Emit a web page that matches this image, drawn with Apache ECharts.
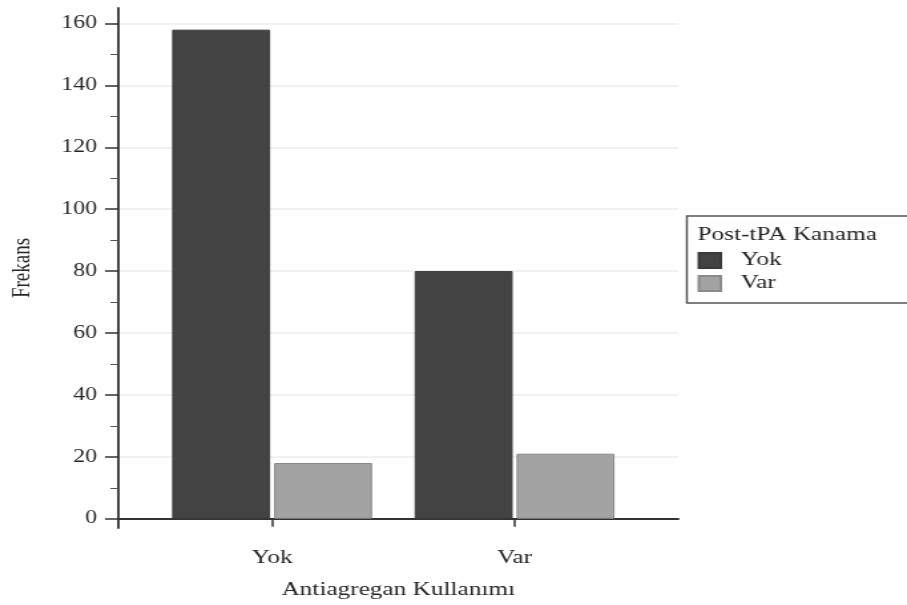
<!DOCTYPE html>
<html>
<head>
<meta charset="utf-8">
<script src="https://cdn.jsdelivr.net/npm/echarts@6/dist/echarts.min.js"></script>
<style>
  html, body { margin: 0; padding: 0; background: #fff; overflow: hidden; }
  #wrap { width: 907px; height: 605px; overflow: hidden; }
  /* the chart is laid out narrow and widened horizontally */
  #chart { width: 682px; height: 605px; transform: scaleX(1.3299); transform-origin: 0 0; }
</style>
</head>
<body>
<div id="wrap"><div id="chart"></div></div>
<script>
// Antiagregan use vs. post-tPA bleeding (counts)
const categories = ['Yok', 'Var'];
const seriesNames = ['Yok', 'Var'];
const bleedNo = [158, 80];   // Post-tPA Kanama: Yok
const bleedYes = [18, 21];   // Post-tPA Kanama: Var
const yTicks = [0, 20, 40, 60, 80, 100, 120, 140, 160];
const yMinorTicks = [10, 30, 50, 70, 90, 110, 130, 150];

const FONT = 'Liberation Serif';
const TXT = '#262626';

const toPoints = vals => vals.map((v, i) => [i + 1, v]);

const chart = echarts.init(document.getElementById('chart'), null, { renderer: 'canvas' });
chart.setOption({
  animation: false,
  backgroundColor: '#ffffff',
  textStyle: { fontFamily: FONT, color: TXT },
  title: {
    text: 'Post-tPA Kanama',
    left: 524.5,
    top: 226,
    padding: 0,
    textStyle: { fontFamily: FONT, fontSize: 19, fontWeight: 'normal', color: TXT }
  },
  legend: {
    orient: 'vertical',
    left: 516.5,
    top: 216,
    padding: [35, 100, 10, 8],
    itemGap: 4,
    itemWidth: 16.5,
    itemHeight: 15,
    icon: 'rect',
    borderColor: '#555',
    borderWidth: 1.5,
    data: seriesNames,
    textStyle: { fontFamily: FONT, fontSize: 19, color: TXT, padding: [0, 0, 0, 10] }
  },
  grid: { left: 88, right: 172, top: 8, bottom: 77, containLabel: false },
  xAxis: {
    type: 'value',
    min: 0.366,
    max: 2.675,
    name: 'Antiagregan Kullanımı',
    nameLocation: 'middle',
    nameGap: 53,
    nameTextStyle: { fontFamily: FONT, fontSize: 19, color: TXT },
    axisLine: { show: true, lineStyle: { color: '#333', width: 2 } },
    axisTick: { show: true, customValues: [1, 2], length: 8, lineStyle: { color: '#333', width: 1.5 } },
    axisLabel: {
      customValues: [1, 2],
      margin: 21,
      fontFamily: FONT, fontSize: 19, color: TXT,
      formatter: v => categories[Math.round(v) - 1] || ''
    },
    splitLine: { show: false }
  },
  yAxis: [{
    type: 'value',
    min: -3,
    max: 165,
    position: 'left',
    name: 'Frekans',
    nameLocation: 'middle',
    nameGap: 62,
    nameTextStyle: { fontFamily: FONT, fontSize: 19, color: TXT },
    axisLine: { show: true, lineStyle: { color: '#333', width: 1.8 } },
    axisTick: { show: true, customValues: yTicks, length: 10, lineStyle: { color: '#333', width: 1.5 } },
    axisLabel: { customValues: yTicks, margin: 16, fontFamily: FONT, fontSize: 18, color: TXT },
    splitLine: { show: true, lineStyle: { color: '#ececec', width: 1.5 } }
  }, {
    type: 'value',
    min: -3,
    max: 165,
    position: 'left',
    axisLine: { show: false },
    axisTick: { show: true, customValues: yMinorTicks, length: 6, lineStyle: { color: '#555', width: 1 } },
    axisLabel: { show: false, customValues: yMinorTicks },
    splitLine: { show: false }
  }],
  series: [{
    name: seriesNames[0],
    type: 'bar',
    yAxisIndex: 0,
    data: toPoints(bleedNo),
    barWidth: 73.7,
    barGap: '4%',
    itemStyle: { color: '#434343', borderColor: '#3a3a3a', borderWidth: 1 }
  }, {
    name: seriesNames[1],
    type: 'bar',
    yAxisIndex: 0,
    data: toPoints(bleedYes),
    barWidth: 73.7,
    barGap: '4%',
    itemStyle: { color: '#a3a3a3', borderColor: '#8a8a8a', borderWidth: 1 }
  }]
});
</script>
</body>
</html>
